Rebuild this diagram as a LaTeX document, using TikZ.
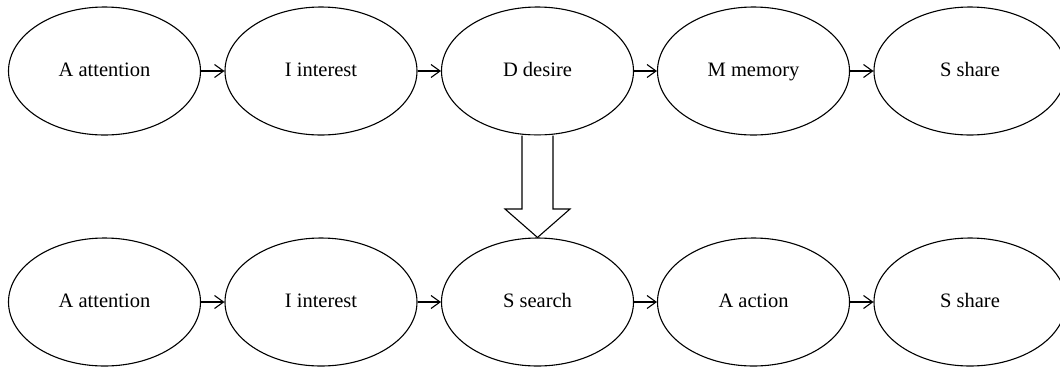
\documentclass[tikz,border=0pt]{standalone}
\usepackage{fontspec}
\setmainfont{Liberation Serif}
\usetikzlibrary{shapes.geometric,arrows.meta}
\begin{document}
\begin{tikzpicture}[x=1pt,y=-1pt,
  stage/.style={ellipse,draw,line width=1.1pt,minimum width=192pt,minimum height=128pt,inner sep=0pt,text height=14pt,text depth=4pt,font=\fontsize{20.5}{24}\selectfont},
  flow/.style={draw,line width=1.1pt,-{Straight Barb[length=9pt,width=13pt,line width=1.1pt]}}]
\useasboundingbox (0,0) rectangle (1060,368);
\foreach \n/\x/\t in {a/104.5/A attention,b/321/I interest,c/537.5/D desire,d/753.5/M memory,e/970/S share}
  \node[stage] (t\n) at (\x,71) {\t};
\foreach \n/\x/\t in {a/104.5/A attention,b/321/I interest,c/537.5/S search,d/753.5/A action,e/970/S share}
  \node[stage] (b\n) at (\x,302) {\t};
\foreach \p/\q in {a/b,b/c,c/d,d/e}{
  \draw[flow] (t\p.east) -- (t\q.west);
  \draw[flow] (b\p.east) -- (b\q.west);
}
\path (tc.south) ++(-15.5,0) coordinate (sL) (tc.south) ++(15.5,0) coordinate (sR);
\draw[line width=1.1pt,line join=miter,fill=white]
  (sL) -- (sL|-0,209) -- (505,209) -- (bc.north) -- (570,209) -- (sR|-0,209) -- (sR);
\end{tikzpicture}
\end{document}
